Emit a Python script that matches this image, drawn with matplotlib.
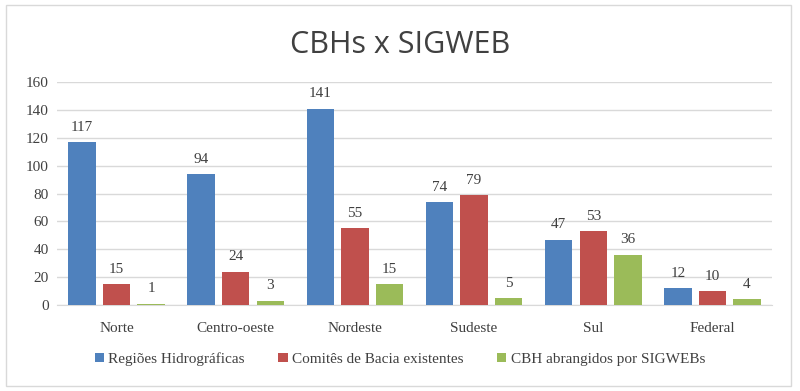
import numpy as np
import matplotlib.pyplot as plt
from matplotlib.patches import Rectangle

# --- data ---
regioes = ["Norte", "Centro-oeste", "Nordeste", "Sudeste", "Sul", "Federal"]
series_names = ["Regiões Hidrográficas", "Comitês de Bacia existentes", "CBH abrangidos por SIGWEBs"]
hidrograficas = [117, 94, 141, 74, 47, 12]
comites = [15, 24, 55, 79, 53, 10]
sigweb = [1, 3, 15, 5, 36, 4]
colors = ["#4f81bd", "#c0504d", "#9bbb59"]

serif = ["Liberation Serif", "DejaVu Serif"]

fig = plt.figure(figsize=(8, 3.91), dpi=100)
ax = fig.add_axes([57 / 800, 0.22, 715 / 800, 0.57])

x = np.arange(len(regioes))
width = 0.23
step = 0.29
for k, (vals, name, c) in enumerate(zip([hidrograficas, comites, sigweb], series_names, colors)):
    bars = ax.bar(x + (k - 1) * step, vals, width, color=c, label=name, zorder=3)
    for b, v in zip(bars, vals):
        ax.text(b.get_x() + b.get_width() / 2, v + 6, str(v), ha="center", va="bottom",
                fontsize=11, family=serif, color="#404040")

ax.set_ylim(0, 160)
ax.set_xlim(-0.5, len(regioes) - 0.5)
ax.set_yticks(range(0, 161, 20))
ax.set_xticks(x)
ax.set_xticklabels(regioes)
ax.grid(axis="y", color="#d9d9d9", linewidth=1, zorder=0)
for s in ["top", "right", "left"]:
    ax.spines[s].set_visible(False)
ax.spines["bottom"].set_color("#d9d9d9")
ax.tick_params(length=0, labelsize=11, labelcolor="#404040", pad=6)
for lab in ax.get_xticklabels() + ax.get_yticklabels():
    lab.set_family(serif)
ax.tick_params(axis="x", pad=12)

fig.text(0.5, 0.885, "CBHs x SIGWEB", ha="center", va="center", fontsize=22,
         family=["Open Sans", "DejaVu Sans"], color="#404040")

leg = fig.legend(loc="center", bbox_to_anchor=(0.5, 0.082), ncol=3, frameon=False,
                 handlelength=0.6, handleheight=0.6, handletextpad=0.3, columnspacing=2.2,
                 prop={"family": serif, "size": 11})
for t in leg.get_texts():
    t.set_color("#404040")

fig.patches.append(Rectangle((0.007, 0.013), 0.982, 0.974, transform=fig.transFigure,
                             fill=False, edgecolor="#d9d9d9", linewidth=1))

fig.savefig("out.png", dpi=100)
